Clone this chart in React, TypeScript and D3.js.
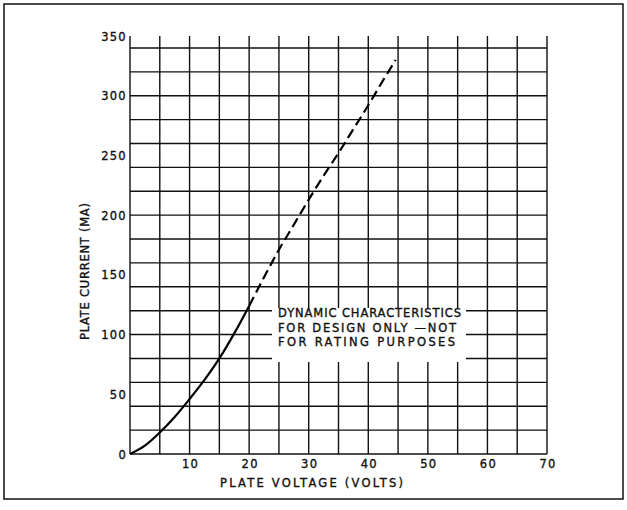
import React, { useEffect, useRef } from "react";
import * as d3 from "d3";

// measured curve, plate voltage (V) vs plate current (mA)
const solidVolts = [0, 2.5, 5, 7.5, 10, 12.5, 15, 17.5, 20];
const solidMa = [0, 7, 18, 31, 46, 62, 80, 101, 124];
const dashVolts = [20, 22.5, 25, 27.5, 30, 32.5, 35, 37.5, 40, 42.5, 44.6];
const dashMa = [124, 148, 171, 192, 213, 233, 252, 272, 292, 313, 330];

const xTickLabels = [10, 20, 30, 40, 50, 60, 70];
const yTickLabels = [0, 50, 100, 150, 200, 250, 300, 350];
const noteLines = ["DYNAMIC  CHARACTERISTICS", "FOR  DESIGN  ONLY \u2014NOT", "FOR  RATING  PURPOSES"];

export default function App() {
  const ref = useRef<SVGSVGElement>(null);

  useEffect(() => {
    const svg = d3.select(ref.current);
    svg.selectAll("*").remove();
    const font = "'DejaVu Sans', sans-serif";

    const x = d3.scaleLinear().domain([0, 70]).range([130, 547]);
    const y = d3.scaleLinear().domain([0, 350]).range([454, 36]);

    // outer frame
    svg.append("rect").attr("x", 4).attr("y", 4).attr("width", 619).attr("height", 495)
      .attr("fill", "none").attr("stroke", "#111").attr("stroke-width", 1.5);

    // grid
    const g = svg.append("g").attr("stroke", "#111").attr("stroke-width", 1.4);
    g.selectAll(".vx").data(x.ticks(14)).join("line")
      .attr("x1", (d) => x(d)).attr("x2", (d) => x(d)).attr("y1", y(0)).attr("y2", y(350));
    g.selectAll(".hy").data(y.ticks(14)).join("line")
      .attr("y1", (d) => y(d)).attr("y2", (d) => y(d)).attr("x1", x(0)).attr("x2", x(70));

    const txt = (sel: any) =>
      sel.attr("font-family", font).attr("font-size", 11.5).attr("fill", "#111")
        .attr("stroke", "#111").attr("stroke-width", 0.35);

    // y tick labels
    svg.append("g").selectAll("text").data(yTickLabels).join("text")
      .attr("x", 127).attr("y", (d) => y(d) + 4.5)
      .attr("text-anchor", "end").attr("letter-spacing", 1.3)
      .call(txt).text((d) => d);

    // x tick labels
    svg.append("g").selectAll("text").data(xTickLabels).join("text")
      .attr("x", (d) => x(d) + 1).attr("y", 467.5)
      .attr("text-anchor", "middle").attr("letter-spacing", 1.3)
      .call(txt).text((d) => d);

    // axis titles
    svg.append("text").attr("x", 220).attr("y", 487)
      .attr("textLength", 183).attr("lengthAdjust", "spacing")
      .call(txt).text("PLATE VOLTAGE (VOLTS)");
    svg.append("text").attr("transform", "translate(89,340) rotate(-90)")
      .attr("textLength", 137).attr("lengthAdjust", "spacing")
      .call(txt).text("PLATE CURRENT (MA)");

    // curve
    const line = d3.line<number>().curve(d3.curveMonotoneX);
    svg.append("path")
      .attr("d", line.x((d, i) => x(solidVolts[i])).y((d) => y(d))(solidMa))
      .attr("fill", "none").attr("stroke", "#000").attr("stroke-width", 2.2);
    svg.append("path")
      .attr("d", line.x((d, i) => x(dashVolts[i])).y((d) => y(d))(dashMa))
      .attr("fill", "none").attr("stroke", "#000").attr("stroke-width", 2.2)
      .attr("stroke-dasharray", "10,5");

    // note with white box
    const note = svg.append("g");
    note.append("rect").attr("x", 272).attr("y", 308).attr("width", 194).attr("height", 54).attr("fill", "#fff");
    note.selectAll("text").data(noteLines).join("text")
      .attr("x", 278).attr("y", (d, i) => 317 + i * 14.5)
      .attr("textLength", (d, i) => [183, 178, 177][i]).attr("lengthAdjust", "spacing")
      .call(txt).text((d) => d);
  }, []);

  return (
    <svg ref={ref} width={627} height={510}
      style={{ position: "absolute", left: 0, top: 0, background: "#fff" }} />
  );
}
